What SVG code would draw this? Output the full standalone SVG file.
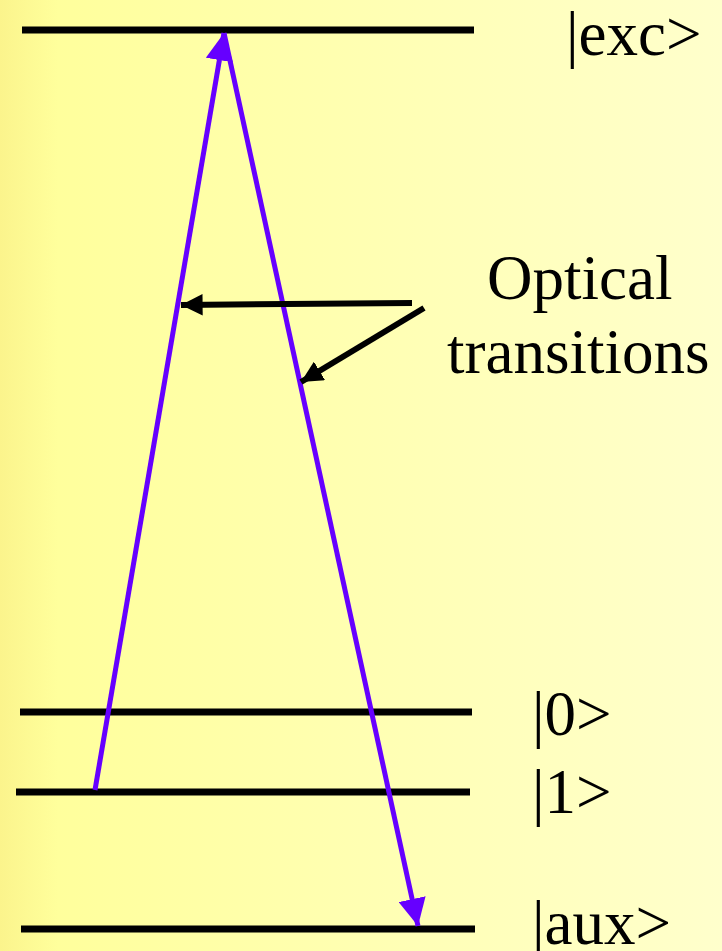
<svg xmlns="http://www.w3.org/2000/svg" width="722" height="951" viewBox="0 0 722 951">
<defs>
<linearGradient id="bg" x1="0" y1="0" x2="1" y2="0">
<stop offset="0" stop-color="#FBF48C"/>
<stop offset="0.08" stop-color="#FFFF9C"/>
<stop offset="0.5" stop-color="#FFFFB2"/>
<stop offset="1" stop-color="#FFFFCC"/>
</linearGradient>
<marker id="ph" viewBox="0 0 10 10" refX="10" refY="5" markerWidth="5.5" markerHeight="5.5" markerUnits="strokeWidth" orient="auto">
<path d="M0,0 L10,5 L0,10 Z" fill="#6600FF"/>
</marker>
<marker id="bh" viewBox="0 0 10 10" refX="10" refY="5" markerWidth="3.6" markerHeight="3.6" markerUnits="strokeWidth" orient="auto">
<path d="M0,0 L10,5 L0,10 Z" fill="#000"/>
</marker>
</defs>
<style>
.lvl{stroke:#000;stroke-width:7;fill:none}
.tr{stroke:#6600FF;stroke-width:5;fill:none;marker-end:url(#ph)}
.pt{stroke:#000;stroke-width:6;fill:none;marker-end:url(#bh)}
text{font-family:"Liberation Serif","Times New Roman",serif;font-size:63px;fill:#000}
</style>
<rect width="722" height="951" fill="url(#bg)"/>
<g id="exc"><line class="lvl" x1="22" y1="30" x2="474" y2="30"/><text x="566" y="55">|exc&gt;</text></g>
<g id="s0"><line class="lvl" x1="20" y1="712" x2="472" y2="712"/><text x="532" y="735">|0&gt;</text></g>
<g id="s1"><line class="lvl" x1="16" y1="792" x2="470" y2="792"/><text x="532" y="813">|1&gt;</text></g>
<g id="aux"><line class="lvl" x1="21" y1="929" x2="475" y2="929"/><text x="532" y="944">|aux&gt;</text></g>
<g id="label"><text x="487" y="299">Optical</text><text x="447" y="373">transitions</text></g>
<g id="connectors">
<line class="tr" x1="95" y1="790" x2="224" y2="33"/>
<line class="tr" x1="224" y1="33" x2="418" y2="926"/>
<line class="pt" x1="412" y1="303" x2="181" y2="305"/>
<line class="pt" x1="424" y1="308" x2="301" y2="382"/>
</g>
</svg>
